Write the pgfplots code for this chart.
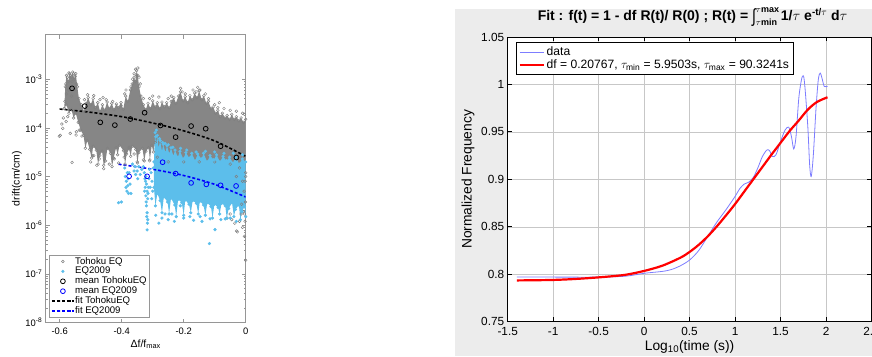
\documentclass[border=0pt]{standalone}
\usepackage{pgfplots}
\usepackage{pgfplotstable}
\pgfplotsset{compat=1.18}
\usepackage{amsmath}
\usepackage{graphicx}
\usepackage{fontspec}
\setmainfont{Liberation Sans}
\definecolor{tgray}{RGB}{128,128,128}
\definecolor{tfill}{RGB}{134,134,134}
\definecolor{eqblue}{RGB}{92,190,235}
\definecolor{figbg}{RGB}{236,236,236}
\definecolor{datablue}{RGB}{125,125,255}
\definecolor{axgray}{RGB}{150,150,150}
\pgfplotstableread{
x y
-0.585 2.5e-4
-0.582 7e-4
-0.578 1.2e-3
-0.572 9e-4
-0.568 1.3e-3
-0.563 1.1e-3
-0.558 1.4e-3
-0.553 1.0e-3
-0.548 1.3e-3
-0.543 7e-4
-0.538 4e-4
-0.530 3e-4
-0.522 2.2e-4
-0.515 3.2e-4
-0.508 4.2e-4
-0.500 3e-4
-0.492 4e-4
-0.485 2.6e-4
-0.477 3.3e-4
-0.470 2.2e-4
-0.462 3e-4
-0.455 2.3e-4
-0.447 3.4e-4
-0.440 2.5e-4
-0.432 3.2e-4
-0.425 2.4e-4
-0.417 3.1e-4
-0.410 2.6e-4
-0.402 3.3e-4
-0.395 2.4e-4
-0.387 4.5e-4
-0.380 3.5e-4
-0.372 6e-4
-0.366 8e-4
-0.360 1.1e-3
-0.356 9e-4
-0.352 1.5e-3
-0.348 1.2e-3
-0.344 7e-4
-0.338 4.5e-4
-0.330 3e-4
-0.322 2.4e-4
-0.315 3.2e-4
-0.307 2.5e-4
-0.300 3.6e-4
-0.292 2.7e-4
-0.285 3.3e-4
-0.277 2.5e-4
-0.270 3.4e-4
-0.262 2.7e-4
-0.255 3.3e-4
-0.247 2.6e-4
-0.240 3.5e-4
-0.232 4.2e-4
-0.225 3.2e-4
-0.217 4.5e-4
-0.210 5.5e-4
-0.202 3.6e-4
-0.195 4.4e-4
-0.187 3.3e-4
-0.180 4.6e-4
-0.172 3.8e-4
-0.165 5.2e-4
-0.157 4.2e-4
-0.150 5.8e-4
-0.142 3.8e-4
-0.135 4.6e-4
-0.127 3.2e-4
-0.120 3.5e-4
-0.112 2.5e-4
-0.105 2.7e-4
-0.097 2e-4
-0.090 2.3e-4
-0.082 1.7e-4
-0.075 2e-4
-0.067 1.6e-4
-0.060 1.8e-4
-0.052 1.5e-4
-0.045 1.9e-4
-0.037 1.5e-4
-0.030 1.7e-4
-0.022 1.4e-4
-0.015 1.6e-4
-0.007 1.3e-4
0 1.5e-4
0 1.2e-5
-0.01 8e-6
-0.02 1.5e-5
-0.03 1e-5
-0.05 1.8e-5
-0.1 2e-5
-0.15 2e-5
-0.2 2e-5
-0.25 2e-5
-0.285 2.5e-5
-0.292 5e-5
-0.298 3.2e-5
-0.303 4.4e-5
-0.309 2.2e-5
-0.313 3.9e-5
-0.322 3.3e-5
-0.327 2.1e-5
-0.333 3.8e-5
-0.345 3.1e-5
-0.349 1.9e-5
-0.354 3.6e-5
-0.366 4.2e-5
-0.371 2.6e-5
-0.376 3.7e-5
-0.384 2.9e-5
-0.389 1.8e-5
-0.394 3.4e-5
-0.407 4.4e-5
-0.413 2.8e-5
-0.418 3.9e-5
-0.426 2.4e-5
-0.431 1.6e-5
-0.436 3e-5
-0.446 3.8e-5
-0.452 2.1e-5
-0.458 1.7e-5
-0.463 3.3e-5
-0.471 2.7e-5
-0.476 1.8e-5
-0.482 3.5e-5
-0.492 4.2e-5
-0.497 2.4e-5
-0.503 3.6e-5
-0.511 5.5e-5
-0.517 3.8e-5
-0.523 7e-5
-0.532 9e-5
-0.540 1.3e-4
-0.548 2e-4
-0.555 1.6e-4
-0.562 2.4e-4
-0.570 2e-4
-0.578 3e-4
-0.585 2.5e-4
}\graypoly
\pgfplotstableread{
x y
-0.296 2e-5
-0.292 8e-5
-0.289 4.5e-5
-0.285 7e-5
-0.281 3.8e-5
-0.276 5.5e-5
-0.270 3.3e-5
-0.266 4.6e-5
-0.259 3.1e-5
-0.254 4.3e-5
-0.246 2.9e-5
-0.241 3.9e-5
-0.233 2.6e-5
-0.228 3.5e-5
-0.219 2.5e-5
-0.212 3.3e-5
-0.201 2.3e-5
-0.193 3.1e-5
-0.182 2.4e-5
-0.174 3e-5
-0.163 2.1e-5
-0.155 2.9e-5
-0.142 2.3e-5
-0.136 3e-5
-0.124 2e-5
-0.115 2.7e-5
-0.103 2.2e-5
-0.094 2.8e-5
-0.083 2e-5
-0.073 2.6e-5
-0.062 2.1e-5
-0.052 2.5e-5
-0.041 1.9e-5
-0.032 2.5e-5
-0.021 1.8e-5
-0.011 2.3e-5
0 2e-5
0 1.5e-6
-0.004 2.4e-6
-0.012 1.9e-6
-0.017 1.3e-6
-0.022 2.6e-6
-0.033 2.1e-6
-0.038 1.5e-6
-0.044 2.9e-6
-0.055 2.2e-6
-0.061 1.4e-6
-0.066 2.5e-6
-0.078 2.8e-6
-0.084 1.7e-6
-0.089 2.3e-6
-0.101 2.7e-6
-0.107 1.4e-6
-0.112 2.4e-6
-0.124 2.9e-6
-0.130 1.6e-6
-0.136 2.6e-6
-0.148 3.1e-6
-0.153 1.7e-6
-0.159 2.8e-6
-0.171 3.2e-6
-0.177 1.8e-6
-0.183 2.7e-6
-0.195 3.3e-6
-0.200 1.6e-6
-0.206 2.9e-6
-0.218 3.4e-6
-0.224 1.5e-6
-0.229 2.6e-6
-0.241 3.6e-6
-0.247 1.7e-6
-0.252 3e-6
-0.264 3.8e-6
-0.270 1.8e-6
-0.276 3.2e-6
-0.285 4.5e-6
-0.291 2.5e-6
-0.296 6e-6
}\bluepoly
\newcommand{\limfont}{\fontsize{9}{9}\selectfont}
\begin{document}
\begin{tikzpicture}[x=1pt,y=1pt]
\path[use as bounding box] (0,0) rectangle (872,356);
\fill[figbg] (455,0) rectangle (872,347);
% ---------------- left panel ----------------
\begin{axis}[
  at={(45.7pt,33.5pt)}, anchor=south west, scale only axis,
  width=200pt, height=288pt,
  xmin=-0.645, xmax=0, ymode=log, ymin=1e-8, ymax=8.3e-3,
  axis line style={draw=axgray, line width=0.6pt},
  tick style={draw=axgray, line width=0.5pt},
  tick align=inside, major tick length=4pt, minor tick length=2pt,
  xtick={-0.6,-0.4,-0.2,0}, xticklabels={-0.6,-0.4,-0.2,0},
  ytick={1e-8,1e-7,1e-6,1e-5,1e-4,1e-3},
  yticklabels={10\textsuperscript{-8},10\textsuperscript{-7},10\textsuperscript{-6},10\textsuperscript{-5},10\textsuperscript{-4},10\textsuperscript{-3}},
  tick label style={font=\fontsize{9.4}{10}\selectfont, text=black},
  xticklabel style={yshift=-2pt},
  xlabel={Δf/f\textsubscript{max}},
  xlabel style={at={(axis description cs:0.5,0)}, anchor=base, yshift=-24.8pt, font=\fontsize{10.5}{12}\selectfont},
  ylabel={drift(cm/cm)},
  ylabel style={at={(axis description cs:-0.131,0.5)}, anchor=base, font=\fontsize{10.5}{12}\selectfont},
  legend style={at={(0.016,0.016)}, anchor=south west, draw=axgray, font=\fontsize{9.6}{10}\selectfont, row sep=0.5pt, inner sep=2pt, fill=white, nodes={inner sep=0.5pt, text height=6.8pt, text depth=1.6pt}},
  legend image code/.code={\draw[mark repeat=2,mark phase=2,#1] plot coordinates {(0pt,0pt) (11pt,0pt) (22pt,0pt)};},
  legend cell align=left,
  clip=true,
]
% Tohoku dense region
\addplot[fill=tfill, draw=none, forget plot] table {\graypoly};
\addplot[only marks, mark=o, mark size=1.4pt, draw=tgray, line width=0.45pt, forget plot] table {\graypoly};
% Tohoku scattered points
\addplot[only marks, mark=o, mark size=1.4pt, draw=tgray, line width=0.45pt] coordinates {
(-0.601,6.7e-5)(-0.59,9.8e-5)(-0.579,1.35e-4)(-0.566,7.7e-5)(-0.547,7.1e-5)(-0.537,9e-5)(-0.574,1.7e-4)(-0.56,1.95e-5)(-0.588,1.6e-4)(-0.593,1.2e-4)
(-0.58,8e-4)(-0.575,1.1e-3)(-0.57,1.35e-3)(-0.565,1.2e-3)(-0.56,9e-4)(-0.555,1.3e-3)(-0.55,1.15e-3)(-0.545,8e-4)(-0.578,5e-4)(-0.572,6e-4)(-0.562,4.5e-4)(-0.552,6e-4)(-0.583,3.5e-4)
(-0.46,4.2e-4)(-0.45,3.8e-4)(-0.429,3.5e-4)(-0.402,2.9e-4)(-0.386,6e-4)(-0.39,5e-4)(-0.47,3.8e-4)(-0.49,4.6e-4)(-0.51,4.8e-4)(-0.52,3.8e-4)
(-0.36,1.3e-3)(-0.355,1.6e-3)(-0.348,1.7e-3)(-0.352,1.2e-3)(-0.344,1.1e-3)(-0.34,8e-4)(-0.365,1e-3)(-0.37,7e-4)
(-0.21,6.5e-4)(-0.205,5.5e-4)(-0.195,5e-4)(-0.17,6e-4)(-0.155,6.8e-4)(-0.148,6e-4)(-0.16,5.5e-4)(-0.24,4.5e-4)(-0.25,4e-4)(-0.28,4.3e-4)(-0.3,4.5e-4)(-0.31,4e-4)(-0.33,4e-4)(-0.13,5e-4)(-0.12,4e-4)(-0.1,3e-4)(-0.085,3.3e-4)(-0.07,2.5e-4)(-0.05,2.3e-4)(-0.03,2.2e-4)(-0.01,2e-4)(-0.004,1.9e-4)(-0.09,2.6e-4)
(-0.546,8.3e-5)(-0.528,6.8e-5)(-0.598,7e-5)(-0.494,2.7e-5)(-0.458,1.45e-5)(-0.49,2.7e-5)(-0.472,2.3e-5)(-0.424,2.3e-5)(-0.392,2.5e-5)(-0.376,4e-5)(-0.36,2.9e-5)(-0.44,1.8e-5)(-0.41,1.9e-5)(-0.35,2e-5)(-0.33,2.2e-5)(-0.31,2.1e-5)(-0.48,1.7e-5)(-0.5,2e-5)
(-0.045,1.3e-6)(-0.029,7.6e-7)(-0.013,2.7e-6)(-0.007,1.9e-6)(-0.004,5.9e-7)(0,1.9e-7)(-0.027,7.3e-7)(-0.004,1.7e-6)(-0.05,1.7e-6)(-0.02,1.2e-6)(-0.002,1.2e-6)(-0.001,3e-6)(-0.015,1.7e-6)(-0.035,1.1e-6)(-0.06,1.4e-6)(-0.01,9e-7)(-0.002,8e-6)(-0.005,5e-6)(0,1e-5)
};
\addlegendentry{Tohoku EQ}
% EQ2009 dense region
\addplot[fill=eqblue, draw=none, forget plot] table {\bluepoly};
\addplot[only marks, mark=*, mark size=1.4pt, mark options={draw=eqblue, fill=eqblue}, forget plot] table {\bluepoly};
% EQ2009 scattered points
\addplot[only marks, mark=*, mark size=1.4pt, mark options={draw=eqblue, fill=eqblue}] coordinates {
(-0.41,2.9e-6)(-0.401,3e-6)
(-0.39,1.5e-5)(-0.388,1e-5)(-0.385,8e-6)(-0.383,5e-6)(-0.38,6.5e-6)(-0.378,4.5e-6)(-0.376,1.2e-5)(-0.373,7e-6)(-0.37,4.5e-6)(-0.382,1.2e-5)(-0.386,6e-6)(-0.379,9e-6)
(-0.365,1.8e-5)(-0.36,1.3e-5)(-0.355,1.1e-5)(-0.35,1.3e-5)(-0.345,1.6e-5)(-0.34,1.1e-5)(-0.335,1.4e-5)(-0.357,1.6e-5)(-0.348,9e-6)
(-0.33,1.6e-5)(-0.327,1.2e-5)(-0.325,9e-6)(-0.322,1e-5)(-0.32,7e-6)(-0.318,5e-6)(-0.316,3.5e-6)(-0.32,2.5e-6)(-0.318,1.8e-6)(-0.316,1.3e-6)(-0.318,8e-7)(-0.322,4e-6)(-0.314,6e-6)(-0.312,9e-6)(-0.324,6e-6)(-0.317,1.1e-6)(-0.319,1.5e-6)(-0.321,3e-6)(-0.315,4.5e-6)(-0.323,8e-6)(-0.326,5e-6)
(-0.305,1.2e-5)(-0.302,8e-6)(-0.3,5e-6)(-0.298,1.5e-5)(-0.308,6e-6)(-0.31,1.4e-5)(-0.303,3.5e-6)
(-0.286,4.1e-5)(-0.29,6.6e-5)(-0.288,9e-5)(-0.278,6e-5)(-0.268,5e-5)(-0.26,4.8e-5)(-0.25,4.5e-5)(-0.235,4e-5)(-0.21,3.8e-5)(-0.19,3.5e-5)(-0.16,3.2e-5)(-0.13,3.3e-5)(-0.1,3.2e-5)(-0.07,3e-5)(-0.04,3e-5)(-0.01,2.8e-5)
(-0.211,2.5e-6)(-0.147,1.5e-6)(-0.099,8.1e-7)(-0.117,4.2e-7)(-0.26,1.7e-6)(-0.238,1.7e-6)(-0.168,1.26e-6)(-0.141,1.2e-6)(-0.115,1.35e-6)(-0.066,1.35e-6)(-0.18,1.5e-6)(-0.2,1.4e-6)(-0.23,1.2e-6)(-0.27,1.4e-6)(-0.28,1.1e-6)(-0.25,1.3e-6)(-0.05,1.4e-6)(-0.03,1.2e-6)(-0.08,1.3e-6)(-0.29,1.6e-6)
};
\addlegendentry{EQ2009}
% means
\addplot[only marks, mark=o, mark size=2.4pt, draw=black, line width=0.8pt] coordinates {
(-0.560,6.5e-4)(-0.519,2.8e-4)(-0.469,1.3e-4)(-0.422,1.14e-4)(-0.372,1.52e-4)(-0.326,2.05e-4)(-0.275,1.12e-4)(-0.226,6.45e-5)(-0.176,1.09e-4)(-0.129,9.6e-5)(-0.081,4.2e-5)(-0.030,2.46e-5)
};
\addlegendentry{mean TohokuEQ}
\addplot[only marks, mark=o, mark size=2.4pt, draw=blue, line width=0.8pt] coordinates {
(-0.376,1.01e-5)(-0.318,1.01e-5)(-0.268,1.97e-5)(-0.226,1.15e-5)(-0.176,7.4e-6)(-0.127,6.9e-6)(-0.081,6.6e-6)(-0.031,6.4e-6)
};
\addlegendentry{mean EQ2009}
% fits
\addplot[black, line width=1.6pt, dash pattern=on 3pt off 2pt, smooth] coordinates {
(-0.6,2.44e-4)(-0.5,2.09e-4)(-0.4,1.70e-4)(-0.3,1.26e-4)(-0.2,8.7e-5)(-0.1,5.4e-5)(0,2.6e-5)
};
\addlegendentry{fit TohokuEQ}
\addplot[blue, line width=1.6pt, dash pattern=on 3pt off 2pt, smooth] coordinates {
(-0.41,1.79e-5)(-0.3,1.41e-5)(-0.2,1.05e-5)(-0.1,6.9e-6)(0,3.8e-6)
};
\addlegendentry{fit EQ2009}
\end{axis}
% ---------------- right panel ----------------
\begin{axis}[
  at={(507.7pt,34.3pt)}, anchor=south west, scale only axis,
  width=363.8pt, height=284.7pt,
  xmin=-1.5, xmax=2.5, ymin=0.75, ymax=1.05,
  axis background/.style={fill=white},
  axis line style={draw=black, line width=0.9pt},
  tick style={draw=black, line width=0.8pt},
  tick align=inside, major tick length=4.5pt,
  grid=major, grid style={draw=black!22, line width=0.6pt},
  xtick={-1.5,-1,-0.5,0,0.5,1,1.5,2,2.5},
  xticklabels={-1.5,-1,-0.5,0,0.5,1,1.5,2,2.5},
  ytick={0.75,0.8,0.85,0.9,0.95,1,1.05},
  yticklabels={0.75,0.8,0.85,0.9,0.95,1,1.05},
  tick label style={font=\fontsize{11.8}{12}\selectfont, text=black},
  xticklabel style={yshift=-2.5pt},
  xlabel={Log\textsubscript{10}(time (s))},
  xlabel style={at={(axis description cs:0.5,0)}, anchor=base, yshift=-29pt, font=\fontsize{13.8}{15}\selectfont},
  ylabel={Normalized Frequency},
  ylabel style={at={(axis description cs:-0.099,0.5)}, anchor=base, font=\fontsize{13.8}{15}\selectfont},
  title={\textbf{Fit : f(t) = 1 - df R(t)/ R(0) ; R(t) = }\raisebox{-2pt}{\scalebox{1}[1.35]{∫}}\rlap{\raisebox{8.2pt}{\limfont$\tau$\textbf{max}}}\raisebox{-5pt}{\limfont$\tau$\textbf{min}}\textbf{ 1/}$\tau$\textbf{ e}\textsuperscript{\textbf{-t/}$\tau$}\textbf{ d}$\tau$},
  title style={at={(axis description cs:0.5,1)}, anchor=base, yshift=10.5pt, xshift=3pt, inner sep=0.5pt, font=\fontsize{14}{16}\selectfont},
  legend style={at={(0.0228,0.981)}, anchor=north west, draw=black, line width=1pt, font=\fontsize{12.1}{12.5}\selectfont, row sep=-1pt, inner sep=2pt, fill=white},
  legend image code/.code={\draw[#1] (0pt,0pt) -- (24pt,0pt);},
  legend cell align=left,
]
\addplot[datablue, line width=0.8pt, smooth, tension=0.5] coordinates {
(-1.4,0.797)(-1.0,0.797)(-0.5,0.797)(-0.2,0.798)(0.0,0.801)(0.2,0.803)(0.3,0.805)(0.4,0.809)(0.5,0.815)(0.6,0.825)(0.7,0.840)(0.8,0.855)(0.9,0.868)(1.0,0.882)(1.05,0.890)(1.1,0.895)(1.15,0.897)(1.2,0.902)(1.25,0.912)(1.3,0.924)(1.35,0.931)(1.38,0.930)(1.41,0.924)(1.45,0.926)(1.5,0.940)(1.55,0.952)(1.59,0.955)(1.62,0.945)(1.645,0.932)(1.67,0.945)(1.70,0.985)(1.73,1.005)(1.752,1.009)(1.77,0.995)(1.80,0.955)(1.82,0.915)(1.837,0.903)(1.86,0.925)(1.89,0.975)(1.915,1.005)(1.936,1.012)(1.96,1.005)(1.98,0.998)(2.016,0.998)
};
\addlegendentry{data}
\addplot[red, line width=2.2pt, smooth] coordinates {
(-1.4,0.7935)(-1.2,0.7937)(-1.0,0.794)(-0.8,0.7948)(-0.6,0.796)(-0.4,0.7975)(-0.2,0.7995)(0,0.8035)(0.2,0.809)(0.4,0.8175)(0.5,0.8235)(0.6,0.831)(0.7,0.84)(0.8,0.8505)(0.9,0.862)(1.0,0.874)(1.1,0.887)(1.2,0.9)(1.3,0.913)(1.4,0.926)(1.5,0.9385)(1.6,0.951)(1.7,0.962)(1.8,0.9735)(1.9,0.9815)(2.016,0.9865)
};
\addlegendentry{df = 0.20767, $\tau_{\text{min}}$ = 5.9503s, $\tau_{\text{max}}$ = 90.3241s}
\end{axis}
\end{tikzpicture}
\end{document}
